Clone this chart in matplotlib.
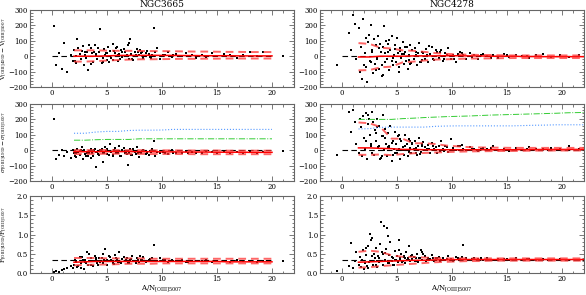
import numpy as np
import matplotlib
matplotlib.use('Agg')
import matplotlib.pyplot as plt
from matplotlib.ticker import MultipleLocator, FormatStrFormatter

plt.rcParams['font.family'] = ['DejaVu Serif']
plt.rcParams['mathtext.fontset'] = 'dejavuserif'

titles = ['NGC3665', 'NGC4278']

# ---- NGC3665 spaxels: A/N and the three differences ----
x_3665 = [0.2, 0.4, 0.6, 0.9, 1.1, 1.4, 1.7, 1.9,
          2.0, 2.2, 2.3, 2.5, 2.6, 2.8, 2.9, 3.0,
          3.2, 3.3, 3.5, 3.6, 3.7, 3.9, 4.0, 4.1,
          4.3, 4.4, 4.6, 4.7, 4.8, 5.0, 5.1, 5.3,
          5.4, 5.5, 5.7, 5.8, 6.0, 6.1, 6.3, 6.4,
          6.6, 6.8, 6.9, 7.1, 7.3, 7.5, 7.7, 7.9,
          8.1, 8.3, 8.6, 8.8, 9.1, 9.3, 9.5, 9.8,
          10.1, 10.5, 10.9, 11.3, 11.8, 12.2, 12.7, 13.1,
          13.6, 14.0, 14.5, 15.0, 15.6, 16.2, 16.8, 17.4,
          18.0, 18.6, 19.2, 21.0,
          2.1, 2.4, 2.7, 3.1, 3.4, 3.8, 4.2, 4.5,
          4.9, 5.2, 5.6, 5.9, 6.2, 6.5, 6.7, 7.0,
          7.2, 7.4, 7.8, 8.0, 8.5, 8.9, 9.4, 10.3,
          2.2, 2.6, 3.0, 3.5, 4.0, 4.6, 5.0, 5.5,
          6.0, 6.4, 7.0, 7.6, 8.2, 9.0, 11.0, 12.4]
dv_3665 = [195, -55, 20, -80, 85, -105, 10, -30,
           40, -45, 110, 15, -20, 65, -60, 5,
           30, -90, 50, 20, -35, 70, 0, -15,
           25, 175, -40, 45, 10, -25, 60, 35,
           -10, 80, 20, 50, -30, 15, 40, -5,
           30, 10, 70, 110, -20, 25, 45, 5,
           20, -10, 35, 15, 5, 180, 50, -15,
           10, 25, -5, 15, 0, 20, 5, -10,
           10, -5, 20, 0, 15, 10, -10, 5,
           25, 0, 30, 0,
           -30, 55, 35, -10, 75, 25, 50, -45,
           20, -35, 35, 60, -15, 45, 0, 85,
           15, -25, 30, 40, 20, -5, 25, 10,
           0, -20, 30, -50, 15, -10, 20, -25,
           10, 30, -15, 5, 25, -10, 10, 0]
ds_3665 = [205, -60, -30, 0, -40, -10, -50, 0,
           -20, -45, 10, -30, -5, -60, 0, -25,
           -15, -35, 5, -20, -40, 10, -110, -10,
           -30, 0, -75, -15, 20, -25, -5, 40,
           -10, -35, 15, -20, -5, 30, -40, 0,
           -15, -25, -95, 5, -30, -10, 20, -45,
           -20, 0, -15, -30, 5, 60, -10, -20,
           -10, -25, 0, -15, -20, -5, -10, -15,
           -20, -5, -10, -15, -5, -20, -10, -15,
           -5, -15, -10, -5,
           -35, -10, 20, -40, -20, 0, -25, 10,
           -5, -30, 0, -15, -40, 15, -20, -10,
           -30, 5, -20, -10, -25, -5, -35, -15,
           -15, 0, -25, -50, -10, -20, 5, -30,
           -20, 0, -15, -25, -5, -10, -20, -15]
fr_3665 = [0.03, 0.06, 0.02, 0.08, 0.1, 0.12, 0.18, 0.14,
           0.2, 0.3, 0.15, 0.42, 0.25, 0.35, 0.1, 0.28,
           0.55, 0.22, 0.38, 0.3, 0.18, 0.45, 0.33, 0.25,
           0.4, 0.28, 0.5, 0.35, 0.62, 0.22, 0.3, 0.42,
           0.33, 0.26, 0.48, 0.38, 0.3, 0.55, 0.27, 0.36,
           0.32, 0.4, 0.25, 0.35, 0.45, 0.3, 0.38, 0.28,
           0.35, 0.42, 0.3, 0.33, 0.38, 0.72, 0.31, 0.4,
           0.33, 0.28, 0.35, 0.3, 0.34, 0.29, 0.32, 0.31,
           0.3, 0.33, 0.29, 0.32, 0.31, 0.28, 0.33, 0.3,
           0.31, 0.29, 0.32, 0.3,
           0.35, 0.18, 0.42, 0.26, 0.5, 0.32, 0.2, 0.38,
           0.3, 0.44, 0.24, 0.36, 0.28, 0.41, 0.34, 0.26,
           0.37, 0.3, 0.33, 0.45, 0.29, 0.36, 0.32, 0.34,
           0.28, 0.12, 0.33, 0.22, 0.4, 0.27, 0.35, 0.31,
           0.29, 0.37, 0.31, 0.27, 0.34, 0.3, 0.32, 0.28]

# ---- NGC4278 spaxels ----
x_4278 = [-0.5, 0.6, 0.8, 1.0, 1.2, 1.3, 1.5, 1.6,
          1.7, 1.8, 1.9, 2.0, 2.1, 2.2, 2.3, 2.4,
          2.5, 2.6, 2.7, 2.8, 2.9, 3.0, 3.1, 3.2,
          3.3, 3.4, 3.5, 3.6, 3.7, 3.8, 3.9, 4.0,
          4.1, 4.2, 4.3, 4.4, 4.5, 4.6, 4.7, 4.8,
          4.9, 5.0, 5.1, 5.2, 5.3, 5.4, 5.5, 5.6,
          5.7, 5.8, 5.9, 6.0, 6.1, 6.2, 6.3, 6.4,
          6.5, 6.6, 6.8, 6.9, 7.0, 7.2, 7.3, 7.5,
          7.6, 7.8, 8.0, 8.2, 8.4, 8.6, 8.8, 9.0,
          9.2, 9.4, 9.6, 9.9, 10.1, 10.4, 10.7, 11.0,
          11.3, 11.6, 12.0, 12.4, 12.8, 13.2, 13.7, 14.2,
          14.7, 15.2, 15.8, 16.4, 17.0, 17.6, 18.3, 19.0,
          19.8, 20.6, 21.5, 2.15, 2.45, 2.75, 3.05, 3.35,
          3.65, 3.95, 4.25, 4.55, 4.85, 5.15, 5.45, 5.75,
          6.05, 6.35, 6.7, 7.1, 7.4, 7.9, 8.3, 8.9,
          9.5, 10.2, 10.9, 11.8, 12.6, 13.5, 15.0, 16.8,
          2.35, 2.65, 3.15, 3.45, 3.75, 4.15, 4.65, 5.25,
          5.65, 6.15, 6.75, 7.25, 7.7, 8.5, 9.3, 10.5]
dv_4278 = [-60, 150, 40, 270, 210, -20, 180, -100,
           60, -150, 240, -60, 20, 120, -170, 90,
           -30, 200, 40, -110, 110, -50, 70, -10,
           130, -80, 30, -130, 60, 195, -40, 100,
           -20, 80, -90, 40, 130, -60, 10, 70,
           -40, 120, 20, -70, 50, -10, 90, -50,
           30, -30, 60, -80, 10, 75, -45, 40,
           -20, 50, -60, 20, 85, -35, 30, -15,
           45, -40, 15, 60, -25, 30, -10, 40,
           -30, 20, 50, -20, 10, -35, 25, 5,
           -15, 20, 5, -20, 15, 0, 10, -10,
           15, -5, 10, 0, -10, 5, 15, -5,
           10, -5, 5, -70, 140, 30, -90, 50,
           -60, 20, 105, -30, 45, -100, 15, 60,
           -25, 40, 10, -40, 20, 65, -20, 30,
           10, -15, 20, -5, 10, -10, 5, 0,
           90, -40, -20, 80, -120, 25, -10, 35,
           15, -50, 30, -25, 10, 40, -20, 15]
ds_4278 = [-30, 250, 120, 260, 180, 40, -20, 200,
           150, -40, 220, 80, 10, 240, -60, 170,
           100, 30, 250, 180, -30, 130, 60, 200,
           20, 160, -50, 90, 230, 0, 140, 40,
           -40, 110, 30, 160, -70, 60, 10, 120,
           40, -20, 90, 10, -60, 60, 20, -30,
           100, 0, 40, -40, 70, 15, -20, 50,
           10, 60, -30, 30, 80, -10, 40, 20,
           0, 35, -20, 50, 10, -15, 25, 60,
           5, 30, -10, 70, 15, 0, 25, 10,
           0, 20, 10, -5, 15, 5, 25, 0,
           10, -5, 15, 0, 20, 5, 10, 15,
           5, 30, 10, 60, 200, -20, 110, 30,
           -40, 80, 20, 50, -20, 100, 0, 30,
           -10, 40, 15, -25, 55, 5, 30, -5,
           20, 0, 35, 10, 5, 15, 0, 10,
           230, 40, 150, -60, 90, 20, -30, 70,
           0, 60, -15, 30, 10, 20, -5, 25]
fr_4278 = [0.05, 0.18, 0.78, 0.12, 0.3, 0.55, 0.2, 0.42,
           0.15, 0.35, 0.6, 0.1, 0.25, 0.48, 0.18, 0.7,
           1.02, 0.3, 0.92, 0.22, 0.5, 0.38, 0.65, 0.15,
           0.45, 0.28, 1.32, 0.55, 0.2, 1.22, 0.35, 0.62,
           1.18, 0.25, 0.48, 0.8, 0.3, 0.4, 0.22, 0.58,
           0.35, 0.45, 0.28, 0.85, 0.38, 0.5, 0.3, 0.42,
           0.26, 0.55, 0.33, 0.4, 0.7, 0.3, 0.45, 0.36,
           0.42, 0.32, 0.5, 0.28, 0.38, 0.6, 0.34, 0.44,
           0.3, 0.4, 0.36, 0.48, 0.32, 0.38, 0.42, 0.35,
           0.4, 0.33, 0.45, 0.37, 0.32, 0.42, 0.36, 0.72,
           0.38, 0.34, 0.4, 0.36, 0.33, 0.39, 0.35, 0.37,
           0.36, 0.34, 0.38, 0.35, 0.37, 0.34, 0.36, 0.35,
           0.37, 0.35, 0.34, 0.65, 0.28, 0.45, 0.2, 0.38,
           0.3, 0.52, 0.25, 0.42, 0.35, 0.6, 0.28, 0.4,
           0.33, 0.46, 0.3, 0.38, 0.5, 0.35, 0.4, 0.32,
           0.37, 0.34, 0.41, 0.36, 0.38, 0.35, 0.37, 0.36,
           0.12, 0.85, 0.3, 0.75, 0.5, 0.95, 0.22, 0.33,
           0.45, 0.3, 0.4, 0.55, 0.35, 0.38, 0.33, 0.4]

# ---- running statistics (median, upper, lower) ----
xb_3665 = [2, 3, 4, 5, 6, 7, 8, 9, 10, 11, 12, 13, 14, 15, 16, 17, 18, 19, 20]
dv_med_3665 = [0, 0, 0, 2, 5, 5, 5, 6, 5, 5, 4, 4, 3, 3, 3, 2, 2, 2, 2]
dv_hi_3665 = [38, 38, 38, 36, 35, 35, 34, 33, 33, 32, 31, 30, 30, 29, 28, 28, 27, 27, 27]
dv_lo_3665 = [-35, -35, -32, -28, -25, -22, -20, -20, -19, -18, -17, -17, -16, -16, -15, -15, -15, -15, -15]
ds_med_3665 = [-10, -10, -10, -9, -9, -9, -10, -10, -11, -11, -12, -12, -12, -13, -13, -13, -14, -14, -14]
ds_hi_3665 = [0, 0, 1, 1, 0, 0, 0, -1, -1, -1, -2, -2, -2, -2, -3, -3, -3, -3, -3]
ds_lo_3665 = [-25, -25, -24, -23, -23, -24, -24, -25, -25, -25, -25, -26, -26, -26, -26, -26, -26, -26, -26]
ds_green_3665 = [65, 65, 68, 70, 70, 70, 74, 74, 74, 74, 74, 74, 74, 74, 74, 74, 74, 74, 74]
ds_blue_3665 = [110, 110, 118, 122, 122, 128, 130, 130, 131, 135, 135, 135, 135, 135, 135, 135, 135, 135, 135]
fr_med_3665 = [0.28, 0.29, 0.3, 0.3, 0.3, 0.3, 0.3, 0.3, 0.3, 0.3, 0.3, 0.3, 0.3, 0.3, 0.29, 0.29, 0.29, 0.29, 0.29]
fr_hi_3665 = [0.39, 0.39, 0.39, 0.38, 0.38, 0.38, 0.38, 0.37, 0.37, 0.37, 0.37, 0.37, 0.37, 0.37, 0.37, 0.37, 0.37, 0.37, 0.37]
fr_lo_3665 = [0.2, 0.21, 0.22, 0.22, 0.23, 0.24, 0.24, 0.24, 0.25, 0.25, 0.25, 0.25, 0.25, 0.25, 0.25, 0.25, 0.25, 0.25, 0.25]

xb_4278 = [1.5, 2.5, 3.5, 4.5, 5.5, 6.5, 7.5, 8.5, 9.5, 10.5, 11.5, 12.5, 13.5, 14.5, 15.5, 16.5, 17.5, 18.5, 19.5, 20.5, 22.0]
dv_med_4278 = [-5, -5, 0, 0, 0, 2, 2, 2, 3, 3, 2, 2, 0, 0, 0, -2, -2, -3, -3, -3, -3]
dv_hi_4278 = [85, 80, 55, 50, 38, 35, 28, 20, 15, 12, 10, 8, 8, 6, 5, 5, 5, 5, 5, 5, 5]
dv_lo_4278 = [-92, -90, -72, -68, -40, -35, -28, -22, -20, -18, -15, -15, -14, -13, -12, -12, -12, -12, -12, -12, -12]
ds_med_4278 = [15, 15, 12, 10, 5, 5, 3, 3, 3, 3, 3, 3, 3, 3, 3, 4, 4, 5, 5, 5, 5]
ds_hi_4278 = [180, 175, 150, 75, 75, 45, 45, 40, 30, 25, 20, 18, 17, 16, 15, 15, 15, 15, 15, 15, 15]
ds_lo_4278 = [-30, -30, -28, -32, -25, -20, -18, -15, -12, -10, -8, -7, -6, -5, -5, -4, -3, -3, -2, -2, -2]
ds_green_4278 = [200, 200, 200, 200, 205, 208, 212, 215, 218, 220, 222, 225, 228, 230, 232, 234, 236, 238, 240, 243, 245]
ds_blue_4278 = [138, 140, 148, 150, 150, 150, 150, 155, 157, 158, 158, 158, 158, 158, 158, 160, 162, 163, 165, 165, 165]
fr_med_4278 = [0.28, 0.29, 0.3, 0.31, 0.32, 0.33, 0.33, 0.34, 0.34, 0.35, 0.35, 0.35, 0.35, 0.35, 0.35, 0.35, 0.35, 0.35, 0.35, 0.35, 0.35]
fr_hi_4278 = [0.55, 0.58, 0.55, 0.46, 0.42, 0.42, 0.4, 0.39, 0.38, 0.38, 0.38, 0.38, 0.38, 0.38, 0.38, 0.38, 0.38, 0.38, 0.38, 0.38, 0.38]
fr_lo_4278 = [0.14, 0.15, 0.18, 0.2, 0.22, 0.24, 0.26, 0.28, 0.29, 0.3, 0.31, 0.31, 0.32, 0.32, 0.32, 0.32, 0.32, 0.32, 0.32, 0.32, 0.32]

ylabels = [r'V$_{\rm [OIII]4959}-$V$_{\rm [OIII]5007}$',
           r'$\sigma_{\rm [OIII]4959}-\sigma_{\rm [OIII]5007}$',
           r'F$_{\rm [OIII]4959}$/F$_{\rm [OIII]5007}$']
xlabel = r'A/N$_{\rm [OIII]5007}$'

galaxies = [
    dict(x=x_3665, xb=xb_3665, xref=(0, 20),
         rows=[(dv_3665, dv_med_3665, dv_hi_3665, dv_lo_3665, None, None),
               (ds_3665, ds_med_3665, ds_hi_3665, ds_lo_3665, ds_green_3665, ds_blue_3665),
               (fr_3665, fr_med_3665, fr_hi_3665, fr_lo_3665, None, None)]),
    dict(x=x_4278, xb=xb_4278, xref=(0, 22),
         rows=[(dv_4278, dv_med_4278, dv_hi_4278, dv_lo_4278, None, None),
               (ds_4278, ds_med_4278, ds_hi_4278, ds_lo_4278, ds_green_4278, ds_blue_4278),
               (fr_4278, fr_med_4278, fr_hi_4278, fr_lo_4278, None, None)]),
]

fig = plt.figure(figsize=(5.86, 2.95), dpi=100)
lefts = [30 / 586, 320 / 586]
width = 264 / 586
tops = [10, 104, 196]
height = 77

for col, g in enumerate(galaxies):
    for row, (yv, med, hi, lo, green, blue) in enumerate(g['rows']):
        ax = fig.add_axes([lefts[col], 1 - (tops[row] + height) / 295, width, height / 295])
        ref = 0.335 if row == 2 else 0
        ax.plot(g['xref'], [ref, ref], color='black', ls=(0, (5, 3)), lw=0.8, zorder=1)
        ax.scatter(g['x'], yv, s=1.2, marker='s', color='black', linewidths=0, zorder=2)
        if green is not None:
            ax.plot(g['xb'], green, color='#33cc33', ls='-.', lw=0.7, zorder=3)
            ax.plot(g['xb'], blue, color='#5599ff', ls=':', lw=0.8, zorder=3)
        ax.plot(g['xb'], med, color='red', lw=1.1, zorder=4)
        ax.plot(g['xb'], hi, color='#ff3333', ls=(0, (4, 2.5)), lw=1.4, alpha=0.75, zorder=4)
        ax.plot(g['xb'], lo, color='#ff3333', ls=(0, (4, 2.5)), lw=1.4, alpha=0.75, zorder=4)

        ax.set_xlim(-2, 22)
        ax.xaxis.set_major_locator(MultipleLocator(5))
        ax.xaxis.set_minor_locator(MultipleLocator(1))
        if row == 2:
            ax.set_ylim(0, 2)
            ax.yaxis.set_major_locator(MultipleLocator(0.5))
            ax.yaxis.set_minor_locator(MultipleLocator(0.1))
            ax.yaxis.set_major_formatter(FormatStrFormatter('%.1f'))
            ax.set_xlabel(xlabel, fontsize=5, labelpad=0)
        else:
            ax.set_ylim(-200, 300)
            ax.yaxis.set_major_locator(MultipleLocator(100))
            ax.yaxis.set_minor_locator(MultipleLocator(20))
        ax.tick_params(which='both', direction='in', top=True, right=True,
                       labelsize=5, pad=1.5, color='#444444')
        ax.tick_params(which='major', length=3.5, width=0.5)
        ax.tick_params(which='minor', length=1.8, width=0.5)
        for sp in ax.spines.values():
            sp.set_color('#666666')
            sp.set_linewidth(0.8)
        if row == 0:
            ax.set_title(titles[col], fontsize=6.5, pad=2)
        if col == 0:
            ax.set_ylabel(ylabels[row], fontsize=4.3)
            ax.yaxis.set_label_coords(-0.078, 0.5)

plt.savefig('out.png', dpi=100)
